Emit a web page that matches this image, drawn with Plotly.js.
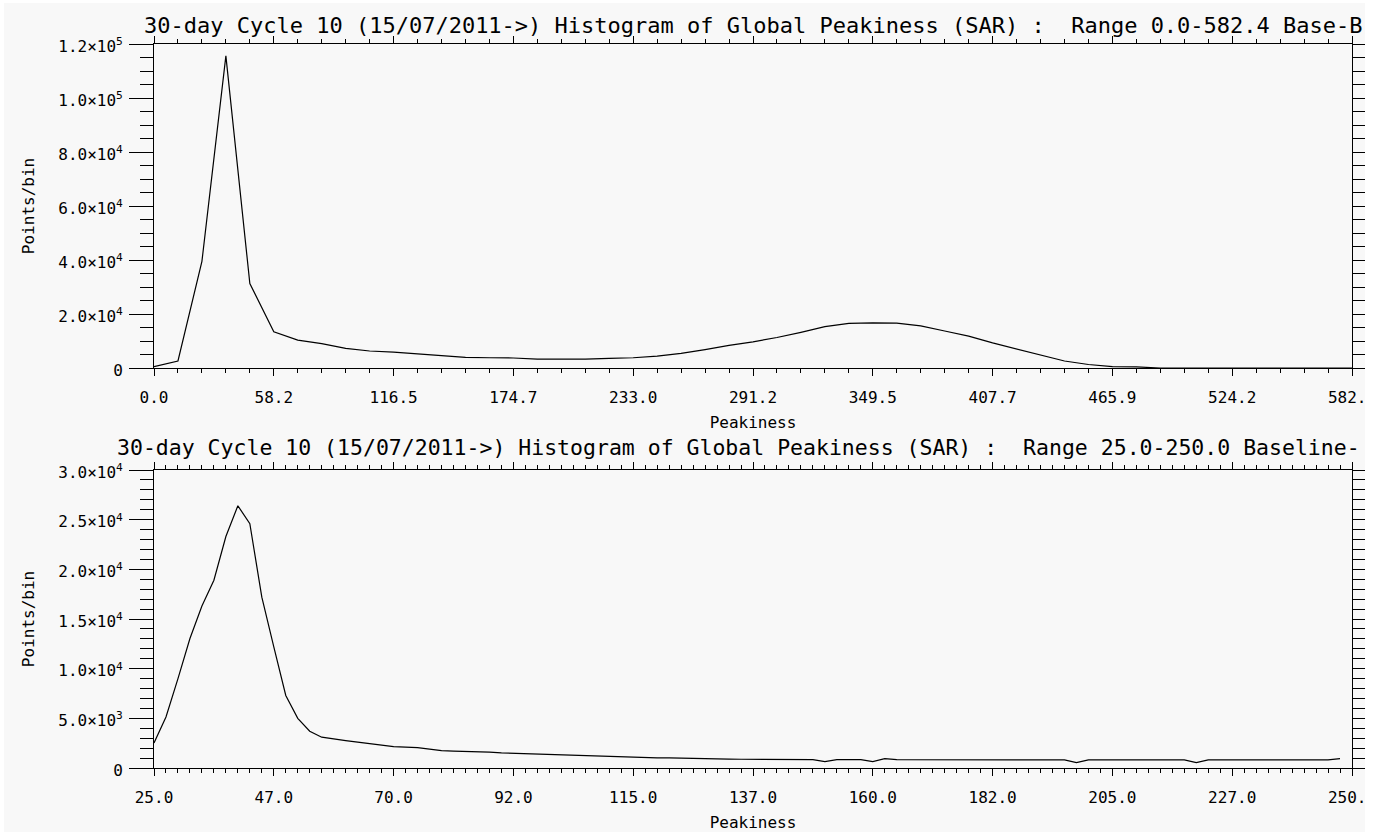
<!DOCTYPE html>
<html>
<head>
<meta charset="utf-8">
<script src="https://cdn.plot.ly/plotly-3.0.1.min.js"></script>
<style>
html,body{margin:0;padding:0;background:#ffffff;}
#chart{position:absolute;left:4px;top:3px;width:1361px;height:829px;}
</style>
</head>
<body>
<div id="chart"></div>
<script>
// ---------- data ----------
const topTitle = "30-day Cycle 10 (15/07/2011->) Histogram of Global Peakiness (SAR) :  Range 0.0-582.4 Base-B";
const bottomTitle = "30-day Cycle 10 (15/07/2011->) Histogram of Global Peakiness (SAR) :  Range 25.0-250.0 Baseline-";
const xAxisLabel = "Peakiness";
const yAxisLabel = "Points/bin";

// top panel: range 0.0-582.4, 50 bins
const topRangeMin = 0.0, topRangeMax = 582.4, topBinCount = 50;
const topCounts = [
  500, 2600, 39500, 115600, 31300, 13400, 10300, 9000, 7300, 6300,
  5900, 5200, 4450, 3900, 3800, 3700, 3300, 3200, 3250, 3600,
  3800, 4400, 5400, 6800, 8400, 9700, 11300, 13200, 15300, 16500,
  16700, 16600, 15600, 13700, 11800, 9300, 7000, 4900, 2600, 1300,
  500, 400, 0, 0, 0, 0, 0, 0, 0, 0, 0
];
const topXTickVals = [0.0, 58.24, 116.48, 174.72, 232.96, 291.2, 349.44, 407.68, 465.92, 524.16, 582.4];
const topXTickText = ["0.0", "58.2", "116.5", "174.7", "233.0", "291.2", "349.5", "407.7", "465.9", "524.2", "582.4"];
const topYTickVals = [0, 20000, 40000, 60000, 80000, 100000, 120000];
const topYTickText = ["0", "2.0×10<sup>4</sup>", "4.0×10<sup>4</sup>", "6.0×10<sup>4</sup>", "8.0×10<sup>4</sup>", "1.0×10<sup>5</sup>", "1.2×10<sup>5</sup>"];

// bottom panel: range 25.0-250.0, 100 bins
const botRangeMin = 25.0, botRangeMax = 250.0, botBinCount = 100;
const botCounts = [
  2520, 5140, 9000, 13040, 16300, 18900, 23300, 26400, 24600, 17200,
  12200, 7300, 5000, 3700, 3100, 2900, 2750, 2600, 2450, 2300,
  2150, 2100, 2050, 1900, 1750, 1700, 1680, 1650, 1600, 1520,
  1480, 1400, 1370, 1350, 1330, 1280, 1200, 1180, 1170, 1150,
  1100, 1030, 1020, 1010, 1000, 1000, 990, 960, 900, 880,
  870, 860, 860, 850, 850, 850, 650, 850, 850, 850,
  650, 950, 850, 840, 840, 830, 830, 830, 830, 820,
  820, 820, 820, 820, 820, 820, 820, 550, 820, 820,
  820, 820, 820, 820, 820, 820, 820, 550, 820, 820,
  820, 820, 820, 820, 820, 820, 820, 820, 820, 950
];
const botXTickVals = [25, 47.5, 70, 92.5, 115, 137.5, 160, 182.5, 205, 227.5, 250];
const botXTickText = ["25.0", "47.0", "70.0", "92.0", "115.0", "137.0", "160.0", "182.0", "205.0", "227.0", "250.0"];
const botYTickVals = [0, 5000, 10000, 15000, 20000, 25000, 30000];
const botYTickText = ["0", "5.0×10<sup>3</sup>", "1.0×10<sup>4</sup>", "1.5×10<sup>4</sup>", "2.0×10<sup>4</sup>", "2.5×10<sup>4</sup>", "3.0×10<sup>4</sup>"];

// ---------- build ----------
function binX(min, max, n, len) {
  const w = (max - min) / n;
  const xs = [];
  for (let k = 0; k < len; k++) xs.push(min + k * w);
  return xs;
}
const topX = binX(topRangeMin, topRangeMax, topBinCount, topCounts.length);
const botX = binX(botRangeMin, botRangeMax, botBinCount, botCounts.length);

const INK = '#000000';
const BG = '#f8f8f8';
const FONT = '"DejaVu Sans Mono", monospace';

const traces = [
  {x: topX, y: topCounts, type: 'scatter', mode: 'lines', line: {color: INK, width: 1.2}, xaxis: 'x', yaxis: 'y', hoverinfo: 'x+y', showlegend: false},
  {x: botX, y: botCounts, type: 'scatter', mode: 'lines', line: {color: INK, width: 1.2}, xaxis: 'x2', yaxis: 'y2', hoverinfo: 'x+y', showlegend: false}
];

function xAxis(vals, text, range, minorStep, anchor) {
  return {
    anchor: anchor, range: range, domain: [0, 1],
    showgrid: false, zeroline: false,
    showline: true, linecolor: INK, linewidth: 1, mirror: 'ticks',
    ticks: 'outside', ticklen: 7, tickwidth: 1, tickcolor: INK,
    tickmode: 'array', tickvals: vals, ticktext: text,
    ticklabeloverflow: 'allow', ticklabelstandoff: 8,
    tickfont: {family: FONT, size: 16, color: INK},
    minor: {ticks: 'outside', ticklen: 4, tickwidth: 1, tickcolor: INK, tick0: range[0], dtick: minorStep, showgrid: false},
    title: {text: xAxisLabel, font: {family: FONT, size: 16, color: INK}, standoff: 10}
  };
}
function yAxis(vals, text, range, minorStep, anchor, domain) {
  return {
    anchor: anchor, range: range, domain: domain,
    showgrid: false, zeroline: false,
    showline: true, linecolor: INK, linewidth: 1, mirror: 'ticks',
    ticks: 'outside', ticklen: 24, tickwidth: 1, tickcolor: INK,
    tickmode: 'array', tickvals: vals, ticktext: text,
    ticklabelstandoff: 3, ticklabelshift: 2,
    tickfont: {family: FONT, size: 16, color: INK},
    minor: {ticks: 'outside', ticklen: 13, tickwidth: 1, tickcolor: INK, tick0: 0, dtick: minorStep, showgrid: false},
    title: {text: yAxisLabel, font: {family: FONT, size: 16, color: INK}, standoff: 19}
  };
}

const layout = {
  width: 1361, height: 829,
  margin: {l: 150, r: 13, t: 41, b: 64, autoexpand: false},
  paper_bgcolor: BG, plot_bgcolor: BG,
  font: {family: FONT, color: INK},
  showlegend: false,
  xaxis: xAxis(topXTickVals, topXTickText, [topRangeMin, topRangeMax], 11.648, 'y'),
  yaxis: yAxis(topYTickVals, topYTickText, [0, 120000], 5000, 'x', [0.55249, 1]),
  xaxis2: xAxis(botXTickVals, botXTickText, [botRangeMin, botRangeMax], 2.25, 'y2'),
  yaxis2: yAxis(botYTickVals, botYTickText, [0, 30000], 1000, 'x2', [0, 0.41160]),
  annotations: [
    {text: topTitle, xref: 'paper', yref: 'paper', x: -0.010, y: 1.0249, xanchor: 'left', yanchor: 'middle', showarrow: false, font: {family: FONT, size: 22, color: INK}},
    {text: bottomTitle, xref: 'paper', yref: 'paper', x: -0.0326, y: 0.4420, xanchor: 'left', yanchor: 'middle', showarrow: false, font: {family: FONT, size: 21.5, color: INK}}
  ]
};

Plotly.newPlot('chart', traces, layout, {displayModeBar: false, staticPlot: false});
</script>
</body>
</html>
